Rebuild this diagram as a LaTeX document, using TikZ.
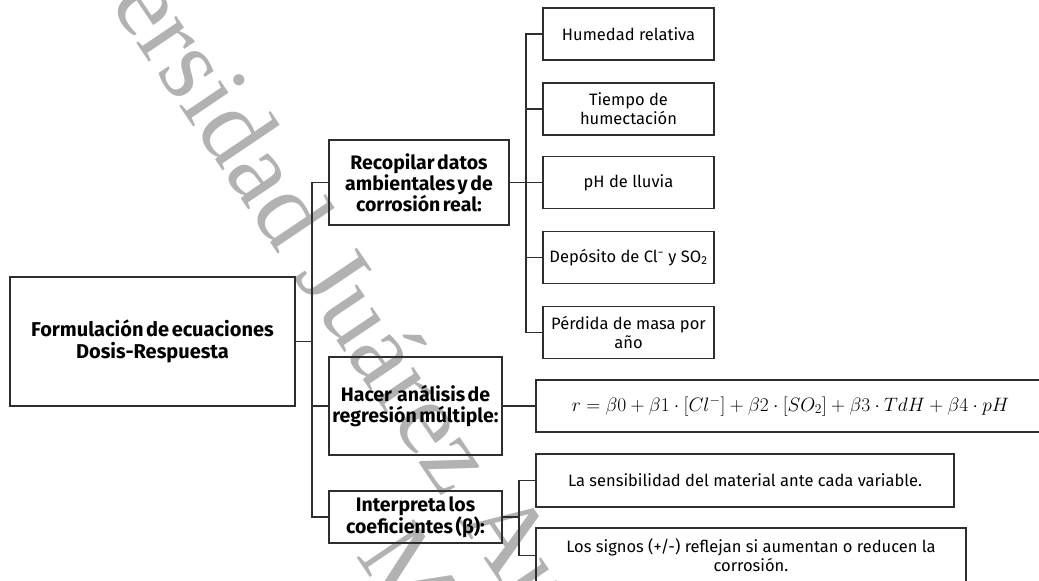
\RequirePackage{fix-cm}
\documentclass[tikz,border=0pt]{standalone}
\usepackage[no-math]{fontspec}
\setmainfont{Fira Sans}[BoldFeatures={WordSpace=0.55}]
\newfontfamily\wmfont{Liberation Serif}
\usetikzlibrary{calc}
\definecolor{linec}{gray}{0.18}
\tikzset{
  box/.style={draw=linec, line width=1.3pt, inner sep=0pt, outer sep=0pt, align=center, text=black},
  head/.style={box, font=\fontsize{19.5}{21}\selectfont\bfseries},
  leaf/.style={box, minimum width=171pt, minimum height=52pt, font=\fontsize{16.5}{19}\selectfont},
  wide/.style={box, font=\fontsize{16.5}{19}\selectfont},
  link/.style={draw=linec, line width=1.3pt},
  wm/.style={rotate=-56, inner sep=0pt, text=black!30, font=\wmfont\fontsize{105}{120}\selectfont},
}
\begin{document}
\begin{tikzpicture}[x=1pt,y=-1pt]
\useasboundingbox (0,0) rectangle (1039,581);
\fill[white] (0,0) rectangle (1039,581);

% watermark behind the chart
\node[wm, anchor=base west] (wm1) at (-8,-171) {Universidad Juárez Autónoma de Tabasco.};
\node[wm, anchor=base west] (wm2) at (355,555) {México.};

% root
\node[head, minimum width=285pt, minimum height=129pt, font=\fontsize{20}{22}\selectfont\bfseries] (main) at (152.5,341.5)
  {Formulación de ecuaciones\\Dosis-Respuesta};

% steps
\node[head, minimum width=180pt, minimum height=85pt] (rec) at (419,182.5)
  {Recopilar datos\\ambientales y de\\corrosión real:};
\node[head, minimum width=173pt, minimum height=98pt] (hacer) at (415.5,406)
  {Hacer\ \ análisis de\\regresión múltiple:};
\node[head, minimum width=173pt, minimum height=52pt] (interp) at (415.5,517)
  {Interpreta los\\coeficientes (β):};

% variables
\node[leaf] (hr)   at (628.5,34)    {Humedad relativa};
\node[leaf] (tdh)  at (628.5,109)   {Tiempo de\\humectación};
\node[leaf] (ph)   at (628.5,182.5) {pH de lluvia};
\node[leaf] (dep)  at (628.5,257.5) {Depósito de Cl\textsuperscript{−} y SO\textsubscript{2}};
\node[leaf] (perd) at (628.5,332.5) {Pérdida de masa por\\año};

% model
\node[box, minimum width=509pt, minimum height=52pt] (eq) at (790.5,406)
  {\fontsize{19.4}{22}\selectfont $r=\beta0+\beta1\cdot[Cl^{-}]+\beta2\cdot[SO_{2}]+\beta3\cdot TdH+\beta4\cdot pH$};

% interpretation
\node[wide, minimum width=418pt, minimum height=53pt] (sens) at (745,480.5)
  {La sensibilidad del material ante cada variable.};
\node[wide, minimum width=430pt, minimum height=55pt] (sig) at (751,555.5)
  {Los signos (+/-) reflejan si aumentan o reducen la\\corrosión.};

% connectors
\foreach \c in {rec,hacer,interp}
  \draw[link] (\c.west) -- ++(-17,0) |- (main.east);
\foreach \c in {hr,tdh,ph,dep,perd}
  \draw[link] (\c.west) -- ++(-17,0) |- (rec.east);
\draw[link] (hacer.east) -- (eq.west);
\foreach \c in {sens,sig}
  \draw[link] (\c.west) -- ++(-17,0) |- (interp.east);
\end{tikzpicture}
\end{document}
